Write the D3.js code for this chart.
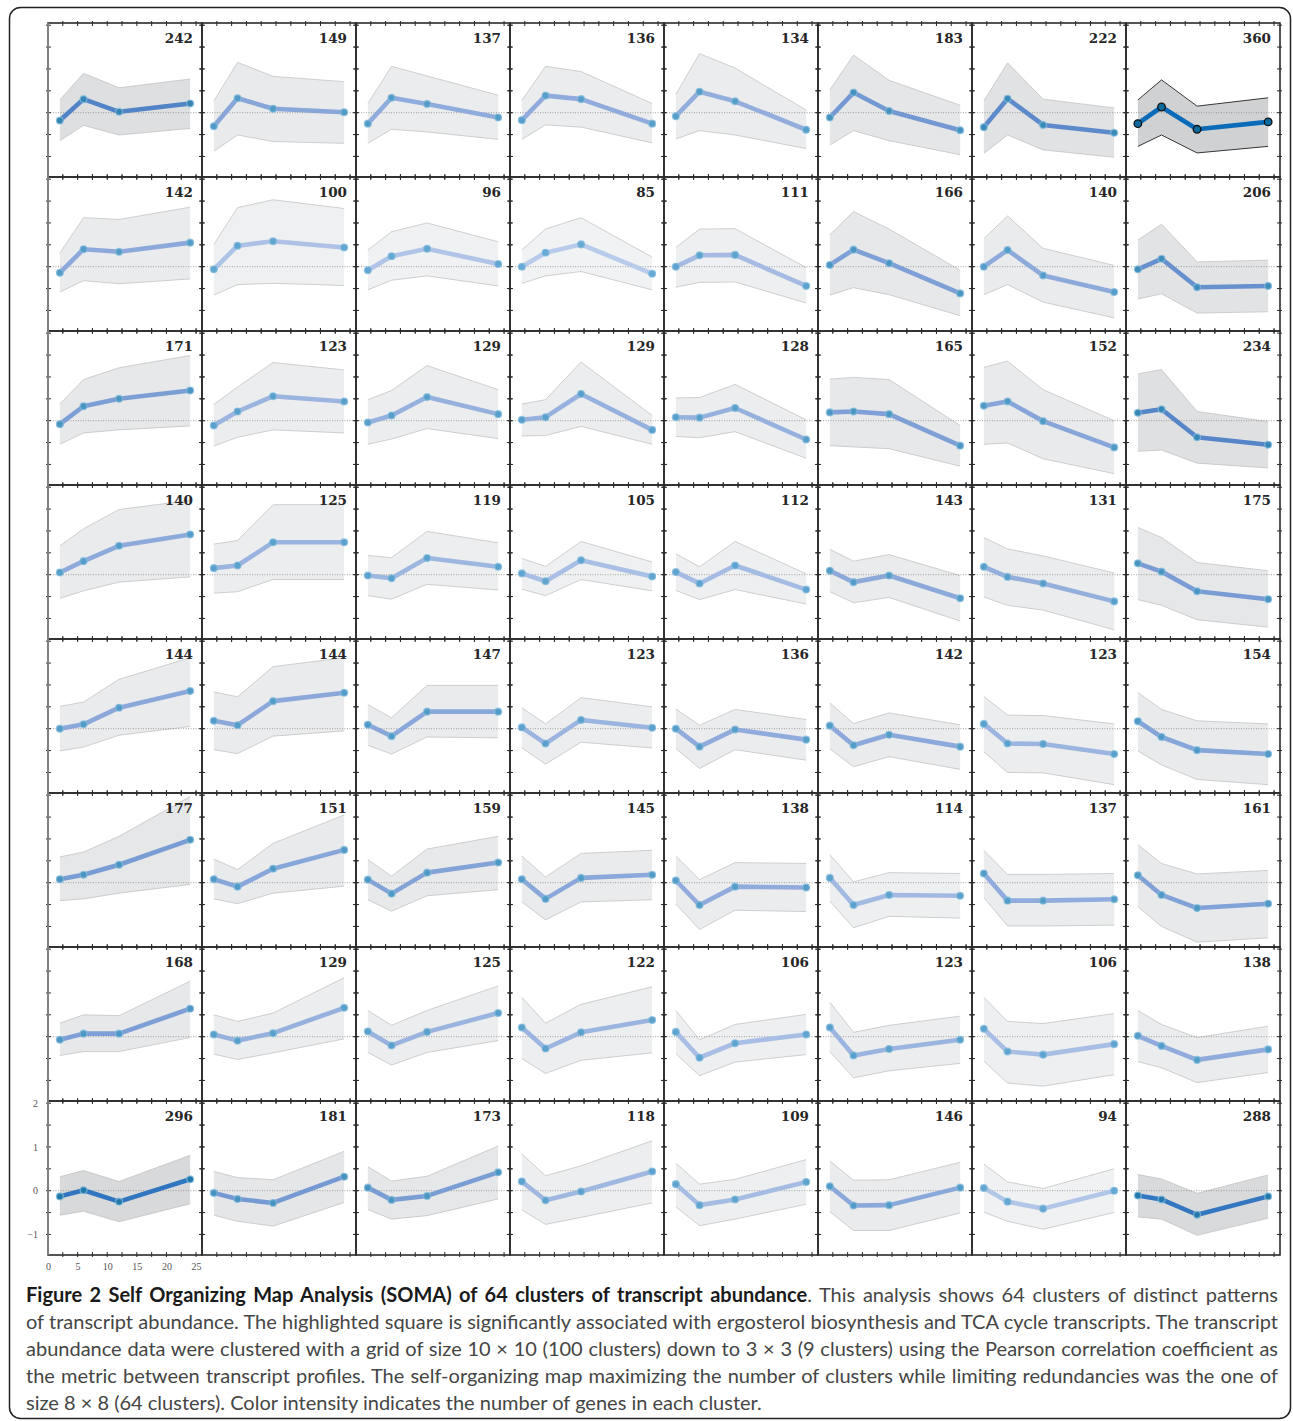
<!DOCTYPE html>
<html>
<head>
<meta charset="utf-8">
<script src="https://cdn.jsdelivr.net/npm/d3@7"></script>
<style>
  body { margin: 0; background: #fff; }
  svg { display: block; }
</style>
</head>
<body>
<svg width="1293" height="1421"></svg>
<script>
// Sampling times (h) and axis ticks
const hours = [2, 6, 12, 24];
const xTickLabels = [0, 5, 10, 15, 20, 25];
const yTickLabels = [-1, 0, 1, 2];

// Number of genes per cluster, row by row (8 x 8)
const counts = [
  242, 149, 137, 136, 134, 183, 222, 360,
  142, 100, 96, 85, 111, 166, 140, 206,
  171, 123, 129, 129, 128, 165, 152, 234,
  140, 125, 119, 105, 112, 143, 131, 175,
  144, 144, 147, 123, 136, 142, 123, 154,
  177, 151, 159, 145, 138, 114, 137, 161,
  168, 129, 125, 122, 106, 123, 106, 138,
  296, 181, 173, 118, 109, 146, 94, 288
];

// Cluster mean profile at each sampling time
const meanProfiles = [
  [-0.18, 0.31, 0.02, 0.21], [-0.31, 0.33, 0.09, 0.01], [-0.25, 0.34, 0.20, -0.11], [-0.17, 0.39, 0.31, -0.25],
  [-0.08, 0.48, 0.26, -0.39], [-0.11, 0.46, 0.04, -0.40], [-0.33, 0.32, -0.28, -0.46], [-0.25, 0.13, -0.38, -0.21],
  [-0.14, 0.40, 0.34, 0.55], [-0.06, 0.48, 0.58, 0.44], [-0.08, 0.24, 0.41, 0.06], [0.00, 0.32, 0.51, -0.16],
  [0.00, 0.26, 0.27, -0.44], [0.04, 0.39, 0.08, -0.61], [0.00, 0.38, -0.20, -0.58], [-0.06, 0.18, -0.47, -0.44],
  [-0.08, 0.33, 0.50, 0.69], [-0.11, 0.21, 0.56, 0.44], [-0.04, 0.12, 0.54, 0.15], [0.02, 0.08, 0.61, -0.21],
  [0.08, 0.07, 0.29, -0.43], [0.19, 0.21, 0.15, -0.57], [0.34, 0.44, -0.01, -0.61], [0.18, 0.26, -0.38, -0.55],
  [0.05, 0.31, 0.66, 0.92], [0.15, 0.21, 0.74, 0.74], [-0.02, -0.08, 0.38, 0.18], [0.03, -0.15, 0.33, -0.04],
  [0.06, -0.20, 0.21, -0.34], [0.09, -0.17, -0.02, -0.54], [0.18, -0.05, -0.20, -0.61], [0.26, 0.07, -0.38, -0.56],
  [0.00, 0.10, 0.48, 0.86], [0.18, 0.08, 0.63, 0.82], [0.09, -0.17, 0.39, 0.39], [0.03, -0.34, 0.20, 0.02],
  [0.00, -0.41, -0.02, -0.25], [0.07, -0.38, -0.14, -0.41], [0.11, -0.34, -0.35, -0.58], [0.17, -0.19, -0.49, -0.58],
  [0.08, 0.18, 0.41, 0.98], [0.08, -0.09, 0.32, 0.75], [0.07, -0.25, 0.23, 0.46], [0.08, -0.37, 0.11, 0.18],
  [0.05, -0.51, -0.09, -0.11], [0.11, -0.51, -0.28, -0.30], [0.21, -0.41, -0.41, -0.38], [0.17, -0.28, -0.58, -0.48],
  [-0.07, 0.07, 0.07, 0.64], [0.05, -0.09, 0.08, 0.66], [0.12, -0.20, 0.11, 0.54], [0.21, -0.27, 0.10, 0.38],
  [0.11, -0.48, -0.15, 0.05], [0.21, -0.43, -0.28, -0.07], [0.18, -0.34, -0.41, -0.17], [0.02, -0.21, -0.53, -0.29],
  [-0.13, 0.01, -0.25, 0.26], [-0.05, -0.19, -0.28, 0.32], [0.07, -0.21, -0.12, 0.42], [0.21, -0.22, -0.02, 0.44],
  [0.15, -0.33, -0.20, 0.20], [0.10, -0.34, -0.33, 0.07], [0.06, -0.25, -0.41, 0.00], [-0.11, -0.20, -0.55, -0.13]
];

// Upper edge of the spread band
const upperBand = [
  [0.29, 0.90, 0.57, 0.77], [0.27, 1.15, 0.83, 0.71], [0.21, 1.06, 0.84, 0.40], [0.28, 1.06, 0.94, 0.21],
  [0.42, 1.35, 1.02, 0.06], [0.52, 1.32, 0.74, 0.17], [0.27, 1.14, 0.31, 0.11], [0.29, 0.75, 0.15, 0.34],
  [0.31, 1.12, 1.08, 1.36], [0.51, 1.35, 1.53, 1.33], [0.38, 0.80, 1.00, 0.57], [0.38, 0.86, 1.12, 0.22],
  [0.44, 0.86, 0.87, -0.02], [0.73, 1.26, 0.86, -0.08], [0.64, 1.16, 0.42, 0.03], [0.61, 0.97, 0.11, 0.15],
  [0.38, 0.94, 1.21, 1.49], [0.37, 0.77, 1.33, 1.16], [0.48, 0.69, 1.26, 0.71], [0.38, 0.48, 1.34, 0.12],
  [0.52, 0.53, 0.83, 0.02], [0.95, 0.99, 0.94, -0.11], [1.22, 1.36, 0.71, 0.00], [1.07, 1.17, 0.21, -0.02],
  [0.66, 1.05, 1.49, 1.70], [0.70, 0.78, 1.60, 1.60], [0.44, 0.39, 0.99, 0.73], [0.37, 0.19, 0.76, 0.29],
  [0.48, 0.18, 0.76, 0.02], [0.58, 0.31, 0.46, -0.02], [0.85, 0.59, 0.43, 0.04], [1.08, 0.85, 0.28, 0.09],
  [0.51, 0.61, 1.13, 1.62], [0.84, 0.73, 1.42, 1.62], [0.55, 0.25, 0.99, 0.99], [0.48, 0.11, 0.71, 0.50],
  [0.45, 0.08, 0.44, 0.21], [0.59, 0.12, 0.36, 0.09], [0.74, 0.31, 0.30, 0.11], [0.83, 0.44, 0.18, 0.11],
  [0.59, 0.70, 1.06, 1.97], [0.54, 0.30, 0.90, 1.55], [0.53, 0.15, 0.77, 1.06], [0.61, 0.13, 0.67, 0.74],
  [0.61, 0.07, 0.46, 0.44], [0.64, 0.02, 0.23, 0.21], [0.74, 0.19, 0.19, 0.21], [0.87, 0.44, 0.20, 0.28],
  [0.31, 0.50, 0.48, 1.27], [0.50, 0.35, 0.54, 1.35], [0.60, 0.26, 0.60, 1.16], [0.90, 0.31, 0.74, 1.14],
  [0.60, -0.07, 0.28, 0.51], [0.79, 0.10, 0.26, 0.47], [0.90, 0.35, 0.30, 0.53], [0.60, 0.28, -0.02, 0.24],
  [0.32, 0.46, 0.21, 0.81], [0.44, 0.30, 0.25, 0.90], [0.55, 0.22, 0.33, 1.02], [0.84, 0.34, 0.57, 1.14],
  [0.63, 0.15, 0.26, 0.71], [0.68, 0.24, 0.25, 0.65], [0.61, 0.20, 0.05, 0.50], [0.37, 0.27, -0.06, 0.36]
];

// Lower edge of the spread band
const lowerBand = [
  [-0.64, -0.29, -0.51, -0.36], [-0.88, -0.51, -0.66, -0.70], [-0.70, -0.38, -0.44, -0.61], [-0.61, -0.28, -0.33, -0.69],
  [-0.60, -0.41, -0.51, -0.82], [-0.74, -0.41, -0.64, -0.96], [-0.93, -0.51, -0.85, -1.02], [-0.77, -0.51, -0.92, -0.77],
  [-0.58, -0.32, -0.39, -0.28], [-0.65, -0.41, -0.38, -0.43], [-0.53, -0.31, -0.21, -0.44], [-0.38, -0.21, -0.11, -0.53],
  [-0.47, -0.36, -0.35, -0.83], [-0.65, -0.48, -0.64, -1.12], [-0.64, -0.41, -0.81, -1.17], [-0.74, -0.62, -1.06, -1.03],
  [-0.54, -0.28, -0.21, -0.12], [-0.58, -0.38, -0.21, -0.28], [-0.54, -0.42, -0.18, -0.41], [-0.35, -0.34, -0.13, -0.54],
  [-0.36, -0.39, -0.25, -0.86], [-0.57, -0.60, -0.64, -1.04], [-0.54, -0.51, -0.87, -1.21], [-0.70, -0.67, -0.97, -1.08],
  [-0.54, -0.37, -0.17, -0.05], [-0.42, -0.39, -0.11, -0.11], [-0.48, -0.56, -0.22, -0.35], [-0.33, -0.48, -0.11, -0.37],
  [-0.36, -0.57, -0.34, -0.67], [-0.39, -0.64, -0.52, -1.06], [-0.51, -0.70, -0.81, -1.26], [-0.57, -0.70, -1.03, -1.20],
  [-0.51, -0.42, -0.15, 0.05], [-0.48, -0.57, -0.17, -0.05], [-0.38, -0.58, -0.19, -0.21], [-0.44, -0.81, -0.31, -0.44],
  [-0.45, -0.91, -0.48, -0.72], [-0.46, -0.87, -0.64, -0.93], [-0.53, -1.00, -1.01, -1.28], [-0.51, -0.83, -1.16, -1.28],
  [-0.41, -0.37, -0.24, -0.04], [-0.37, -0.48, -0.24, -0.08], [-0.39, -0.65, -0.30, -0.16], [-0.44, -0.85, -0.44, -0.39],
  [-0.49, -1.07, -0.63, -0.66], [-0.42, -1.03, -0.77, -0.81], [-0.34, -0.99, -0.99, -0.97], [-0.55, -1.00, -1.36, -1.26],
  [-0.43, -0.34, -0.34, -0.02], [-0.40, -0.52, -0.37, -0.05], [-0.36, -0.65, -0.36, -0.09], [-0.50, -0.84, -0.54, -0.37],
  [-0.39, -0.89, -0.58, -0.41], [-0.34, -0.94, -0.78, -0.61], [-0.56, -1.06, -1.13, -0.87], [-0.57, -0.71, -1.05, -0.82],
  [-0.56, -0.47, -0.71, -0.30], [-0.56, -0.70, -0.81, -0.27], [-0.43, -0.65, -0.57, -0.19], [-0.44, -0.77, -0.61, -0.28],
  [-0.37, -0.80, -0.65, -0.31], [-0.48, -0.91, -0.91, -0.51], [-0.49, -0.70, -0.88, -0.50], [-0.60, -0.65, -1.02, -0.63]
];

// The cluster linked to ergosterol / TCA transcripts
const highlighted = 7;

// Caption, one entry per printed line
const captionBold = "Figure 2 Self Organizing Map Analysis (SOMA) of 64 clusters of transcript abundance";
const captionLines = [
  ". This analysis shows 64 clusters of distinct patterns",
  "of transcript abundance. The highlighted square is significantly associated with ergosterol biosynthesis and TCA cycle transcripts. The transcript",
  "abundance data were clustered with a grid of size 10 \u00d7 10 (100 clusters) down to 3 \u00d7 3 (9 clusters) using the Pearson correlation coefficient as",
  "the metric between transcript profiles. The self-organizing map maximizing the number of clusters while limiting redundancies was the one of",
  "size 8 \u00d7 8 (64 clusters). Color intensity indicates the number of genes in each cluster."
];

const svg = d3.select("svg");
const nCols = 8, cell = 154, gridLeft = 48, gridTop = 23;

// Outer rounded frame
svg.append("rect")
  .attr("x", 9.5).attr("y", 7.5)
  .attr("width", 1281).attr("height", 1411)
  .attr("rx", 11)
  .attr("fill", "none")
  .attr("stroke", "#222")
  .attr("stroke-width", 1.5);

// Scales shared by every panel
const x = d3.scaleLinear().domain([0, 26]).range([0, cell]);
const y = d3.scaleLinear().domain([-1.47, 2.05]).range([cell, 0]);

// Colour intensity follows cluster size
const lineColor = d3.scaleLinear()
  .domain([85, 140, 240, 300, 360])
  .range(["#b9cbea", "#8eaadb", "#5283c7", "#2d74bf", "#0a6cb8"]);
const bandColor = d3.scaleLinear().domain([85, 360]).range(["#f1f2f3", "#cfd1d3"]);
const dotColor = d3.scaleLinear().domain([85, 360]).range(["#66a9d4", "#0e6a9c"]);

const meanLine = d3.line().x((d, i) => x(hours[i])).y(d => y(d));
const band = d3.area()
  .x((d, i) => x(hours[i]))
  .y0(d => y(d[0]))
  .y1(d => y(d[1]));

const panels = svg.append("g")
  .selectAll("g")
  .data(counts)
  .join("g")
  .attr("transform", (d, i) => `translate(${gridLeft + (i % nCols) * cell}, ${gridTop + Math.floor(i / nCols) * cell})`);

panels.each(function(count, i) {
  const g = d3.select(this);
  const hl = i === highlighted;
  const upper = upperBand[i], lower = lowerBand[i];

  // spread band
  g.append("path")
    .attr("d", band(hours.map((h, k) => [lower[k], upper[k]])))
    .attr("fill", bandColor(count));
  [upper, lower].forEach(edge => {
    g.append("path")
      .attr("d", meanLine(edge))
      .attr("fill", "none")
      .attr("stroke", hl ? "#222" : "#bdbdbd")
      .attr("stroke-width", hl ? 0.9 : 0.7);
  });

  // zero line
  g.append("line")
    .attr("x1", 0).attr("x2", cell)
    .attr("y1", y(0)).attr("y2", y(0))
    .attr("stroke", "#8a8a8a")
    .attr("stroke-width", 0.8)
    .attr("stroke-dasharray", "1,1.5");

  // mean profile
  g.append("path")
    .attr("d", meanLine(meanProfiles[i]))
    .attr("fill", "none")
    .attr("stroke", lineColor(count))
    .attr("stroke-width", 4.6)
    .attr("stroke-linejoin", "round");

  g.selectAll("circle")
    .data(meanProfiles[i])
    .join("circle")
    .attr("cx", (d, k) => x(hours[k]))
    .attr("cy", d => y(d))
    .attr("r", hl ? 3.8 : 3.4)
    .attr("fill", dotColor(count))
    .attr("stroke", hl ? "#111" : "rgba(130,185,220,0.75)")
    .attr("stroke-width", 1.3);

  // frame and ticks
  g.append("rect")
    .attr("width", cell).attr("height", cell)
    .attr("fill", "none")
    .attr("stroke", "#2a2a2a")
    .attr("stroke-width", 1.6);

  const tk = g.append("g").attr("stroke", "#2a2a2a").attr("stroke-width", 1);
  d3.range(2.5, 25.1, 2.5).forEach(t => {
    tk.append("line").attr("x1", x(t)).attr("x2", x(t)).attr("y1", -2).attr("y2", 3);
    tk.append("line").attr("x1", x(t)).attr("x2", x(t)).attr("y1", cell - 3).attr("y2", cell + 2);
  });
  d3.range(-1, 2.01, 0.5).forEach(v => {
    tk.append("line").attr("x1", -2).attr("x2", 3).attr("y1", y(v)).attr("y2", y(v));
    tk.append("line").attr("x1", cell - 3).attr("x2", cell + 2).attr("y1", y(v)).attr("y2", y(v));
  });

  // gene count
  g.append("text")
    .attr("x", cell - 9)
    .attr("y", 20)
    .attr("text-anchor", "end")
    .attr("font-family", "'DejaVu Serif', serif")
    .attr("font-weight", "bold")
    .attr("font-size", 13.5)
    .attr("fill", "#262626")
    .text(count);
});

// Left edge of the grid is drawn lighter
svg.append("line")
  .attr("x1", gridLeft).attr("x2", gridLeft)
  .attr("y1", gridTop).attr("y2", gridTop + 8 * cell)
  .attr("stroke", "#8c8c8c")
  .attr("stroke-width", 1.6);

// Axis labels on the bottom-left panel only
const corner = svg.append("g")
  .attr("transform", `translate(${gridLeft}, ${gridTop + 7 * cell})`);

const yAxis = corner.append("g")
  .call(d3.axisLeft(y).tickValues(yTickLabels).tickFormat(d3.format("d")).tickSize(0).tickPadding(10));
const xAxis = corner.append("g")
  .attr("transform", `translate(0, ${cell})`)
  .call(d3.axisBottom(x).tickValues(xTickLabels).tickFormat(d3.format("d")).tickSize(0).tickPadding(8));
[yAxis, xAxis].forEach(a => {
  a.select(".domain").remove();
  a.selectAll("text")
    .attr("font-family", "'Liberation Serif', serif")
    .attr("font-size", 10)
    .attr("fill", "#555");
});

// Caption, justified line by line
const capLeft = 26, capRight = 1278;
captionLines.forEach((line, li) => {
  const t = svg.append("text")
    .attr("x", capLeft)
    .attr("y", 1302 + li * 27)
    .attr("font-family", "Lato, 'Open Sans', sans-serif")
    .attr("font-size", 20)
    .attr("fill", "#454545");
  if (li === 0) {
    t.append("tspan").attr("font-weight", "bold").attr("fill", "#1a1a1a").text(captionBold);
  }
  t.append("tspan").text(line);

  if (li < captionLines.length - 1) {
    const full = (li === 0 ? captionBold : "") + line;
    const gaps = full.split(" ").length - 1;
    const w = t.node().getComputedTextLength();
    t.attr("word-spacing", (capRight - capLeft - w) / gaps);
  }
});
</script>
</body>
</html>
